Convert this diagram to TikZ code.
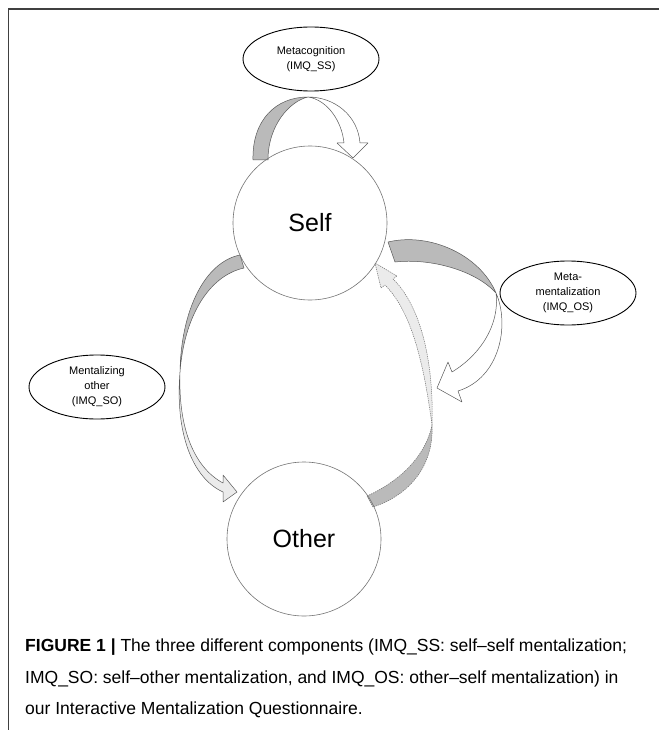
\documentclass[tikz,border=0pt]{standalone}
\usepackage{fontspec}
\setmainfont{Liberation Sans}
\usetikzlibrary{shapes.geometric}
\begin{document}
\begin{tikzpicture}[x=1pt,y=-1pt,
  circ/.style={circle, draw=black!55, line width=0.6pt, minimum size=154pt, inner sep=0pt, font=\fontsize{25}{30}\selectfont},
  lab/.style={ellipse, draw=black, line width=0.9pt, minimum width=136pt, minimum height=64pt, inner sep=0pt, align=center, font=\fontsize{11}{15}\selectfont},
  ribdark/.style={fill=black!27, draw=black!65, line width=0.5pt, line join=round},
  riblight/.style={fill=white, draw=black!65, line width=0.5pt, line join=round},
  ribpale/.style={fill=black!8, draw=black!65, line width=0.5pt, line join=round},
  dashrib/.style={draw=black!55, dash pattern=on 1.3pt off 0.9pt},
  captext/.style={anchor=base west, inner sep=0pt, font=\fontsize{17.5}{20}\selectfont},
]
\useasboundingbox (0,0) rectangle (659,730);
% frame
\draw[line width=1.8pt, black!75] (8,9) -- (659,9);
\draw[line width=1pt, black!75] (8,9) -- (8,730);

% top loop (Metacognition)
\draw[ribdark] (253,160) .. controls (252,120) and (276,97) .. (308,97) .. controls (290,101) and (268,125) .. (268,160) -- cycle;
\draw[riblight] (308,97) .. controls (335,97) and (358,116) .. (360,143) -- (368,143) -- (353,158) -- (337,143) -- (344,143) .. controls (342,122) and (328,100) .. (308,97) -- cycle;

% left arrow (Self -> Other)
\draw[ribdark] (240,255) .. controls (205,262) and (181,310) .. (180,372) .. controls (184,318) and (208,276) .. (244,268) -- cycle;
\draw[ribpale] (180,372) .. controls (178,430) and (195,468) .. (223,483) -- (223,475) -- (237,492) -- (223,502) -- (223,492) .. controls (192,478) and (175,432) .. (180,372) -- cycle;

% right arrow (Meta-mentalization)
\draw[ribdark] (388,242) .. controls (430,232) and (480,255) .. (496,293) .. controls (475,270) and (430,258) .. (395,262) -- cycle;
\draw[riblight] (496,293) .. controls (500,325) and (480,355) .. (452,372) -- (448,362) -- (437,388) -- (462,402) -- (458,391) .. controls (500,378) and (510,325) .. (496,293) -- cycle;

% dashed arrow (Other -> Self)
\draw[ribdark, dashrib] (367,496) .. controls (398,482) and (425,458) .. (432,425) .. controls (434,465) and (410,495) .. (373,507) -- cycle;
\draw[ribpale, dashrib] (432,425) .. controls (434,360) and (420,305) .. (393,279) -- (397,276) -- (375,263) -- (381,288) -- (385,285) .. controls (412,312) and (424,365) .. (432,425) -- cycle;

% circles
\node[circ] (self) at (310,223) {Self};
\node[circ] (other) at (304,539) {Other};

% labels
\node[lab] (mc) at (311,59) {Metacognition\\(IMQ\_SS)};
\node[lab] (mm) at (568,293) {Meta-\\mentalization\\(IMQ\_OS)};
\node[lab] (mo) at (97,387) {Mentalizing\\other\\(IMQ\_SO)};

% caption
\node[captext] (cap1) at (25,651) {\textbf{FIGURE 1 |} The three different components (IMQ\_SS: self–self mentalization;};
\node[captext] (cap2) at (25,683) {IMQ\_SO: self–other mentalization, and IMQ\_OS: other–self mentalization) in};
\node[captext] (cap3) at (25,714) {our Interactive Mentalization Questionnaire.};
\end{tikzpicture}
\end{document}
